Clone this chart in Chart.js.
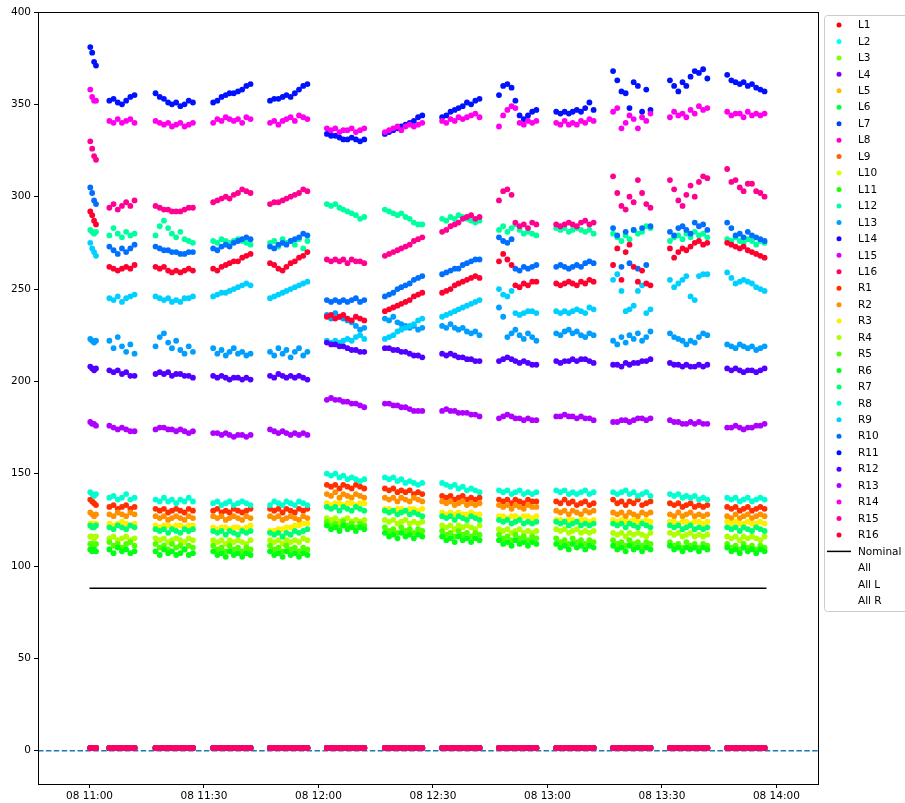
<!DOCTYPE html>
<html>
<head>
<meta charset="utf-8">
<script src="https://cdn.jsdelivr.net/npm/chart.js@4.4.1/dist/chart.umd.min.js"></script>
<style>
  html, body { margin: 0; padding: 0; background: #fff; }
  #chart { display: block; }
</style>
</head>
<body>
<canvas id="chart" width="905" height="803"></canvas>
<script>
// times of each burst of readings, minutes after 08 11:00
const sampleTimes = [
  [0.2, 0.7, 1.2, 1.7],
  [5.2, 6.3, 7.4, 8.5, 9.6, 10.7, 11.8],
  [17.3, 18.4, 19.5, 20.6, 21.6, 22.7, 23.8, 24.9, 26.0, 27.1],
  [32.4, 33.5, 34.6, 35.7, 36.7, 37.8, 38.9, 40.0, 41.1, 42.2],
  [47.3, 48.4, 49.5, 50.6, 51.6, 52.7, 53.8, 54.9, 56.0, 57.1],
  [62.2, 63.3, 64.4, 65.5, 66.5, 67.6, 68.7, 69.8, 70.9, 72.0],
  [77.4, 78.5, 79.6, 80.7, 81.7, 82.8, 83.9, 85.0, 86.1, 87.2],
  [92.4, 93.5, 94.6, 95.7, 96.7, 97.8, 98.9, 100.0, 101.1, 102.2],
  [107.3, 108.4, 109.5, 110.6, 111.6, 112.7, 113.8, 114.9, 116.0, 117.1],
  [122.3, 123.4, 124.5, 125.6, 126.6, 127.7, 128.8, 129.9, 131.0, 132.1],
  [137.2, 138.3, 139.4, 140.5, 141.5, 142.6, 143.7, 144.8, 145.9, 147.0],
  [152.1, 153.2, 154.3, 155.4, 156.4, 157.5, 158.6, 159.7, 160.8, 161.9],
  [167.1, 168.2, 169.3, 170.4, 171.4, 172.5, 173.6, 174.7, 175.8, 176.9]
];

const seriesNames = ['L1','L2','L3','L4','L5','L6','L7','L8','L9','L10','L11','L12','L13','L14','L15','L16',
  'R1','R2','R3','R4','R5','R6','R7','R8','R9','R10','R11','R12','R13','R14','R15','R16'];
const extraNames = ['All', 'All L', 'All R'];

// L sensors that only read ~0
const lOffline = [
  [1.5, 1.5, 1.5, 1.5],
  [1.5, 1.5, 1.5, 1.5, 1.5, 1.5, 1.5],
  [1.5, 1.5, 1.5, 1.5, 1.5, 1.5, 1.5, 1.5, 1.5, 1.5],
  [1.5, 1.5, 1.5, 1.5, 1.5, 1.5, 1.5, 1.5, 1.5, 1.5],
  [1.5, 1.5, 1.5, 1.5, 1.5, 1.5, 1.5, 1.5, 1.5, 1.5],
  [1.5, 1.5, 1.5, 1.5, 1.5, 1.5, 1.5, 1.5, 1.5, 1.5],
  [1.5, 1.5, 1.5, 1.5, 1.5, 1.5, 1.5, 1.5, 1.5, 1.5],
  [1.5, 1.5, 1.5, 1.5, 1.5, 1.5, 1.5, 1.5, 1.5, 1.5],
  [1.5, 1.5, 1.5, 1.5, 1.5, 1.5, 1.5, 1.5, 1.5, 1.5],
  [1.5, 1.5, 1.5, 1.5, 1.5, 1.5, 1.5, 1.5, 1.5, 1.5],
  [1.5, 1.5, 1.5, 1.5, 1.5, 1.5, 1.5, 1.5, 1.5, 1.5],
  [1.5, 1.5, 1.5, 1.5, 1.5, 1.5, 1.5, 1.5, 1.5, 1.5],
  [1.5, 1.5, 1.5, 1.5, 1.5, 1.5, 1.5, 1.5, 1.5, 1.5]
];

const L12 = [
  [282, 281, 280, 281],
  [279, 283, 280, 278, 281, 279, 280],
  [279, 284, 287, 283, 280, 278, 281, 277, 276, 275],
  [276, 275, 277, 276, 275, 276, 277, 276, 275, 274],
  [275, 276, 273, 277, 275, 276, 274, 277, 272, 276],
  [296, 295, 296, 294, 293, 292, 291, 290, 288, 289],
  [293, 292, 291, 290, 291, 289, 288, 286, 285, 285],
  [288, 287, 289, 288, 290, 289, 288, 287, 286, 287],
  [282, 284, 281, 283, 285, 282, 280, 281, 280, 279],
  [283, 282, 283, 281, 282, 283, 282, 281, 282, 280],
  [280, 278, 276, 279, 277, 282, 280, 281, 284, 283],
  [276, 278, 279, 277, 280, 278, 281, 279, 280, 278],
  [277, 276, 278, 276, 275, 277, 276, 274, 276, 275]
];
const L13 = [
  [223, 222, 221, 222],
  [222, 218, 224, 219, 216, 220, 215],
  [219, 224, 226, 221, 218, 222, 217, 215, 219, 216],
  [218, 215, 217, 214, 216, 218, 215, 216, 214, 215],
  [216, 214, 218, 215, 217, 213, 216, 218, 214, 216],
  [236, 234, 237, 235, 234, 233, 232, 230, 228, 229],
  [234, 233, 235, 232, 231, 230, 229, 230, 228, 229],
  [230, 229, 231, 229, 228, 229, 227, 226, 227, 225],
  [240, 235, 224, 226, 228, 225, 223, 226, 224, 222],
  [226, 225, 227, 228, 226, 227, 225, 224, 226, 225],
  [222, 220, 224, 221, 225, 223, 226, 222, 224, 227],
  [226, 224, 223, 222, 220, 222, 221, 224, 226, 225],
  [220, 219, 218, 220, 219, 218, 219, 217, 218, 219]
];

const R1 = [
  [136, 135, 134, 133],
  [132, 133, 131, 132, 133, 131, 132],
  [131, 130, 131, 129, 130, 131, 130, 129, 131, 130],
  [130, 131, 129, 130, 129, 131, 130, 129, 130, 131],
  [131, 130, 131, 129, 131, 130, 129, 131, 130, 131],
  [144, 143, 144, 142, 144, 143, 142, 144, 143, 142],
  [142, 141, 142, 140, 141, 140, 141, 139, 140, 139],
  [138, 137, 138, 136, 137, 138, 136, 137, 136, 137],
  [136, 135, 136, 134, 136, 135, 134, 136, 135, 135],
  [135, 134, 136, 134, 135, 133, 134, 135, 133, 134],
  [136, 134, 135, 133, 135, 134, 136, 133, 134, 135],
  [134, 133, 134, 132, 133, 134, 132, 133, 132, 133],
  [132, 131, 132, 130, 131, 132, 130, 131, 132, 131]
];
const R2 = [
  [129, 128, 127, 128],
  [128, 127, 129, 128, 127, 129, 128],
  [127, 126, 127, 125, 126, 127, 126, 125, 127, 126],
  [127, 126, 127, 125, 126, 127, 126, 125, 127, 126],
  [127, 126, 127, 125, 126, 127, 126, 125, 127, 126],
  [139, 138, 140, 137, 139, 138, 137, 139, 138, 137],
  [137, 136, 137, 135, 137, 136, 135, 137, 136, 135],
  [135, 134, 135, 133, 134, 135, 133, 134, 133, 134],
  [133, 132, 133, 131, 133, 132, 131, 133, 132, 132],
  [130, 129, 130, 128, 130, 129, 128, 130, 129, 130],
  [129, 128, 129, 127, 129, 128, 127, 129, 128, 129],
  [128, 127, 129, 127, 128, 129, 127, 128, 127, 128],
  [127, 126, 128, 126, 127, 128, 126, 127, 128, 127]
];
const R3 = [
  [123, 123, 122, 123],
  [123, 122, 123, 124, 123, 122, 123],
  [122, 121, 122, 122, 121, 122, 122, 121, 122, 122],
  [121, 120, 121, 121, 120, 121, 121, 120, 121, 122],
  [119, 119, 120, 120, 121, 121, 122, 122, 123, 123],
  [134, 133, 134, 134, 133, 134, 134, 133, 134, 134],
  [131, 131, 130, 131, 131, 130, 131, 131, 130, 131],
  [129, 128, 129, 128, 129, 128, 128, 129, 128, 128],
  [127, 127, 126, 127, 127, 126, 127, 127, 126, 127],
  [125, 125, 124, 125, 125, 124, 125, 125, 124, 125],
  [125, 124, 125, 124, 124, 125, 124, 124, 125, 124],
  [124, 124, 123, 124, 124, 123, 124, 124, 123, 124],
  [124, 123, 124, 123, 123, 124, 123, 123, 124, 123]
];
const R4 = [
  [116, 116, 115, 116],
  [115, 116, 114, 115, 116, 114, 115],
  [115, 114, 115, 113, 114, 115, 114, 113, 115, 114],
  [114, 113, 114, 112, 114, 113, 114, 113, 112, 114],
  [114, 113, 114, 112, 114, 113, 114, 113, 115, 114],
  [126, 125, 126, 124, 125, 126, 124, 125, 124, 125],
  [125, 124, 125, 123, 124, 125, 123, 124, 123, 124],
  [122, 121, 122, 120, 122, 121, 122, 121, 120, 122],
  [120, 119, 120, 118, 119, 120, 118, 119, 118, 119],
  [120, 119, 120, 118, 119, 120, 118, 119, 118, 119],
  [118, 117, 118, 116, 118, 117, 118, 117, 116, 118],
  [118, 117, 118, 116, 117, 118, 116, 117, 116, 117],
  [116, 115, 116, 114, 116, 115, 116, 115, 114, 116]
];
const R5 = [
  [112, 112, 111, 112],
  [113, 111, 112, 110, 112, 113, 111],
  [112, 110, 111, 109, 112, 110, 111, 109, 111, 110],
  [111, 109, 110, 108, 111, 109, 110, 108, 110, 109],
  [111, 109, 110, 108, 111, 109, 110, 108, 110, 109],
  [124, 122, 123, 121, 124, 122, 123, 121, 123, 122],
  [121, 119, 120, 118, 121, 119, 120, 118, 120, 119],
  [119, 117, 118, 116, 119, 117, 118, 116, 118, 117],
  [117, 115, 116, 114, 117, 115, 116, 114, 116, 115],
  [115, 113, 114, 112, 115, 113, 114, 112, 114, 113],
  [114, 112, 113, 111, 114, 112, 113, 111, 113, 112],
  [113, 111, 112, 110, 113, 111, 112, 110, 112, 111],
  [112, 110, 111, 109, 112, 110, 111, 109, 111, 110]
];
const R6 = [
  [109, 108, 109, 108],
  [109, 107, 110, 108, 109, 107, 108],
  [108, 106, 109, 107, 108, 106, 107, 109, 106, 107],
  [108, 106, 107, 105, 108, 106, 107, 105, 107, 106],
  [108, 106, 107, 105, 108, 106, 107, 105, 107, 106],
  [122, 120, 121, 119, 122, 120, 121, 119, 121, 120],
  [118, 116, 117, 115, 118, 116, 117, 115, 117, 116],
  [116, 114, 115, 113, 116, 114, 115, 113, 115, 114],
  [114, 112, 113, 111, 114, 112, 113, 111, 113, 112],
  [112, 110, 111, 109, 112, 110, 111, 109, 111, 110],
  [111, 109, 110, 108, 111, 109, 110, 108, 110, 109],
  [111, 109, 110, 108, 110, 109, 110, 108, 110, 109],
  [110, 108, 109, 107, 110, 108, 109, 107, 109, 108]
];
const R7 = [
  [122, 121, 121, 122],
  [121, 120, 122, 121, 120, 122, 121],
  [120, 119, 120, 118, 120, 119, 118, 120, 119, 120],
  [119, 118, 119, 117, 119, 118, 117, 119, 118, 119],
  [118, 117, 118, 116, 118, 117, 119, 118, 119, 120],
  [132, 131, 132, 130, 132, 131, 130, 132, 131, 130],
  [130, 129, 130, 128, 129, 130, 128, 129, 128, 127],
  [127, 126, 127, 125, 127, 126, 125, 127, 126, 125],
  [125, 124, 125, 123, 124, 125, 123, 124, 123, 124],
  [124, 123, 124, 122, 123, 124, 122, 123, 122, 123],
  [123, 122, 123, 121, 123, 122, 121, 123, 122, 121],
  [122, 121, 122, 120, 121, 122, 120, 121, 120, 121],
  [121, 120, 121, 119, 121, 120, 119, 121, 120, 119]
];
const R8 = [
  [140, 139, 138, 139],
  [137, 138, 136, 137, 139, 136, 137],
  [136, 135, 137, 135, 136, 134, 136, 135, 137, 135],
  [134, 135, 133, 134, 135, 133, 134, 135, 134, 133],
  [133, 135, 134, 133, 135, 134, 133, 135, 134, 133],
  [150, 149, 150, 148, 149, 147, 148, 147, 146, 147],
  [148, 147, 148, 146, 147, 145, 146, 145, 144, 145],
  [145, 144, 143, 144, 142, 143, 141, 142, 141, 140],
  [141, 140, 141, 139, 140, 141, 139, 140, 139, 140],
  [141, 140, 141, 139, 140, 139, 140, 141, 139, 140],
  [140, 139, 140, 141, 139, 140, 138, 139, 140, 138],
  [139, 138, 139, 137, 138, 137, 138, 136, 137, 136],
  [137, 136, 137, 135, 136, 137, 135, 136, 137, 136]
];
const R9 = [
  [275, 272, 270, 268],
  [245, 244, 246, 243, 245, 246, 247],
  [246, 245, 244, 245, 243, 244, 243, 245, 245, 246],
  [246, 247, 248, 248, 249, 250, 251, 252, 253, 252],
  [245, 246, 247, 248, 249, 250, 251, 252, 253, 254],
  [222, 221, 222, 221, 222, 223, 222, 224, 225, 223],
  [223, 224, 225, 227, 228, 229, 230, 231, 233, 234],
  [235, 236, 237, 238, 239, 240, 241, 242, 243, 244],
  [250, 247, 246, 249, 237, 236, 237, 238, 238, 237],
  [238, 237, 238, 237, 238, 239, 238, 237, 240, 239],
  [255, 258, 249, 238, 239, 241, 249, 252, 237, 239],
  [255, 251, 253, 255, 257, 246, 244, 257, 258, 258],
  [259, 256, 253, 254, 255, 254, 253, 251, 250, 249]
];
const R10 = [
  [305, 302, 298, 296],
  [273, 271, 269, 272, 270, 272, 274],
  [273, 272, 271, 271, 270, 270, 269, 269, 270, 270],
  [272, 271, 273, 274, 273, 275, 276, 277, 278, 277],
  [273, 272, 274, 275, 274, 276, 277, 278, 280, 279],
  [244, 243, 244, 243, 244, 243, 244, 245, 243, 244],
  [246, 247, 248, 250, 251, 252, 253, 255, 256, 257],
  [258, 259, 260, 261, 261, 263, 264, 265, 266, 266],
  [278, 276, 275, 277, 261, 260, 262, 261, 262, 263],
  [262, 263, 262, 261, 262, 263, 262, 264, 265, 264],
  [283, 279, 262, 281, 264, 282, 261, 283, 263, 284],
  [281, 279, 283, 284, 282, 280, 286, 284, 285, 282],
  [286, 283, 279, 280, 278, 281, 279, 278, 277, 276]
];
const R11 = [
  [381, 378, 373, 371],
  [352, 353, 351, 350, 352, 354, 355],
  [356, 354, 353, 351, 350, 351, 349, 350, 352, 351],
  [351, 352, 354, 355, 356, 356, 357, 358, 360, 361],
  [352, 353, 353, 354, 355, 354, 356, 358, 360, 361],
  [334, 333, 333, 332, 331, 331, 332, 331, 330, 331],
  [334, 335, 336, 337, 338, 339, 340, 341, 343, 344],
  [343, 344, 346, 347, 348, 349, 351, 350, 352, 353],
  [355, 360, 361, 359, 352, 344, 342, 344, 346, 347],
  [346, 345, 346, 345, 346, 347, 346, 348, 351, 347],
  [368, 363, 357, 356, 348, 362, 360, 346, 358, 347],
  [363, 360, 357, 362, 360, 365, 368, 367, 369, 364],
  [366, 363, 362, 361, 362, 360, 361, 359, 358, 357]
];
const R12 = [
  [208, 207, 206, 207],
  [206, 205, 206, 204, 205, 203, 203],
  [204, 205, 204, 205, 203, 204, 204, 203, 203, 202],
  [203, 202, 203, 202, 201, 202, 202, 201, 202, 201],
  [203, 202, 204, 203, 202, 203, 202, 203, 202, 201],
  [221, 220, 220, 219, 219, 218, 217, 217, 216, 216],
  [218, 218, 217, 217, 216, 216, 215, 214, 214, 213],
  [215, 214, 215, 214, 213, 213, 212, 212, 211, 211],
  [211, 212, 213, 212, 211, 210, 211, 210, 209, 209],
  [211, 210, 211, 211, 212, 211, 212, 212, 211, 210],
  [209, 209, 208, 210, 209, 210, 210, 211, 211, 212],
  [210, 209, 209, 208, 209, 208, 208, 209, 208, 209],
  [207, 206, 207, 206, 205, 206, 206, 205, 206, 207]
];
const R13 = [
  [178, 177, 177, 176],
  [176, 175, 174, 175, 174, 173, 173],
  [174, 175, 175, 174, 174, 173, 174, 173, 172, 173],
  [172, 172, 171, 172, 171, 170, 171, 171, 170, 171],
  [174, 173, 172, 173, 172, 171, 172, 171, 172, 171],
  [190, 191, 190, 190, 189, 189, 188, 188, 187, 186],
  [188, 188, 187, 187, 186, 186, 185, 184, 184, 184],
  [184, 185, 184, 184, 183, 183, 183, 182, 182, 181],
  [180, 181, 182, 181, 180, 180, 179, 180, 179, 179],
  [181, 181, 182, 181, 181, 180, 181, 180, 180, 179],
  [178, 178, 179, 179, 178, 179, 180, 180, 179, 180],
  [179, 178, 178, 177, 177, 178, 177, 178, 177, 177],
  [175, 175, 176, 175, 174, 175, 175, 176, 176, 177]
];
const R14 = [
  [358, 354, 352, 352],
  [341, 340, 342, 340, 341, 342, 340],
  [341, 340, 339, 340, 338, 339, 340, 338, 339, 340],
  [340, 342, 341, 343, 342, 341, 342, 340, 343, 342],
  [340, 341, 339, 341, 342, 343, 341, 344, 343, 342],
  [337, 336, 337, 335, 336, 336, 337, 335, 336, 337],
  [335, 336, 337, 338, 336, 338, 339, 338, 339, 340],
  [341, 340, 342, 341, 343, 342, 343, 344, 345, 343],
  [338, 344, 347, 349, 348, 340, 339, 341, 340, 341],
  [340, 339, 341, 339, 340, 339, 341, 340, 342, 341],
  [346, 348, 337, 340, 344, 342, 337, 343, 341, 345],
  [343, 346, 344, 345, 343, 347, 345, 349, 347, 348],
  [346, 344, 345, 345, 343, 346, 344, 345, 344, 345]
];
const R15 = [
  [330, 326, 322, 320],
  [294, 296, 293, 295, 297, 295, 298],
  [295, 294, 293, 293, 292, 292, 292, 293, 294, 294],
  [297, 298, 299, 300, 299, 301, 302, 304, 303, 302],
  [296, 297, 297, 298, 299, 300, 301, 302, 304, 303],
  [266, 265, 266, 265, 266, 264, 266, 265, 265, 264],
  [268, 269, 270, 271, 272, 273, 274, 276, 277, 278],
  [281, 282, 284, 285, 286, 288, 289, 290, 288, 289],
  [298, 303, 304, 301, 286, 284, 285, 283, 286, 285],
  [285, 284, 285, 286, 285, 284, 286, 287, 285, 286],
  [311, 302, 295, 293, 300, 297, 309, 302, 296, 294],
  [309, 304, 298, 295, 301, 306, 300, 308, 311, 310],
  [315, 308, 309, 305, 303, 307, 307, 303, 302, 300]
];
const R16 = [
  [292, 290, 287, 285],
  [262, 261, 260, 261, 262, 261, 263],
  [262, 261, 262, 260, 259, 260, 259, 260, 261, 260],
  [261, 260, 262, 263, 264, 265, 265, 267, 268, 269],
  [264, 263, 261, 260, 262, 264, 265, 267, 268, 270],
  [235, 236, 234, 235, 236, 234, 233, 235, 234, 233],
  [238, 239, 240, 241, 242, 243, 244, 246, 247, 248],
  [248, 249, 250, 252, 253, 254, 255, 256, 257, 256],
  [265, 269, 266, 263, 252, 251, 253, 252, 254, 254],
  [253, 252, 253, 254, 253, 252, 254, 253, 255, 254],
  [263, 272, 255, 270, 274, 262, 254, 260, 253, 252],
  [272, 267, 270, 272, 271, 273, 275, 276, 274, 275],
  [275, 274, 273, 272, 273, 271, 270, 269, 268, 267]
];

const nominalTimes = [0, 177.4];
const nominalValues = [88, 88];
const referenceLevel = 0;

const xTickMinutes = [0, 30, 60, 90, 120, 150, 180];
const yTickValues = [0, 50, 100, 150, 200, 250, 300, 350, 400];
const xRange = [-13.5, 190.9];
const yRange = [-18, 400];

// hsv colours per sensor (degrees)
const lHues = [0, 180, 90, 270, 45, 135, 225, 315, 22.5, 67.5, 112.5, 157.5, 202.5, 247.5, 292.5, 337.5];
const rHues = [11, 34, 56, 79, 101, 124, 146, 169, 191, 214, 236, 259, 281, 304, 326, 349];

const readings = {
  L12, L13, R1, R2, R3, R4, R5, R6, R7, R8, R9, R10, R11, R12, R13, R14, R15, R16
};

function toPoints(clusters) {
  const pts = [];
  clusters.forEach((vals, c) => {
    vals.forEach((v, i) => pts.push({ x: sampleTimes[c][i], y: v }));
  });
  return pts;
}

const FONT = 'DejaVu Sans';
const hues = lHues.concat(rHues);
const datasets = [];

// axhline at zero, drawn below everything
datasets.push({
  label: '',
  legendKind: 'skip',
  data: [{ x: xRange[0], y: referenceLevel }, { x: xRange[1], y: referenceLevel }],
  showLine: true,
  borderColor: '#1f77b4',
  borderWidth: 1.5,
  borderDash: [5.5, 2.4],
  pointRadius: 0,
  order: 100
});

seriesNames.forEach((name, i) => {
  const col = 'hsl(' + hues[i] + ', 100%, 50%)';
  datasets.push({
    label: name,
    legendKind: 'dot',
    data: toPoints(readings[name] || lOffline),
    backgroundColor: col,
    borderWidth: 0,
    pointRadius: 2.9,
    order: -i
  });
});

datasets.push({
  label: 'Nominal',
  legendKind: 'line',
  data: nominalTimes.map((t, i) => ({ x: t, y: nominalValues[i] })),
  showLine: true,
  borderColor: '#000',
  borderWidth: 1.5,
  pointRadius: 0,
  order: -50
});

extraNames.forEach(name => {
  datasets.push({ label: name, legendKind: 'none', data: [], pointRadius: 0, order: -60 });
});

function fmtTime(m) {
  const h = 11 + Math.floor(m / 60);
  const mm = m % 60;
  return '08 ' + h + ':' + (mm < 10 ? '0' : '') + mm;
}

const framePlugin = {
  id: 'frame',
  afterDatasetsDraw(chart) {
    const a = chart.chartArea;
    const ctx = chart.ctx;
    ctx.save();
    ctx.strokeStyle = '#000';
    ctx.lineWidth = 1;
    ctx.strokeRect(Math.round(a.left) + 0.5, Math.round(a.top) + 0.5,
      Math.round(a.right - a.left), Math.round(a.bottom - a.top));
    ctx.restore();
  }
};

const sideLegend = {
  id: 'sideLegend',
  afterDraw(chart) {
    const ctx = chart.ctx;
    const items = chart.data.datasets.filter(d => d.legendKind !== 'skip');
    const left = 824.5, top = 15.5, w = 110, h = 596, r = 3;
    ctx.save();
    ctx.beginPath();
    ctx.moveTo(left + r, top);
    ctx.lineTo(left + w - r, top);
    ctx.quadraticCurveTo(left + w, top, left + w, top + r);
    ctx.lineTo(left + w, top + h - r);
    ctx.quadraticCurveTo(left + w, top + h, left + w - r, top + h);
    ctx.lineTo(left + r, top + h);
    ctx.quadraticCurveTo(left, top + h, left, top + h - r);
    ctx.lineTo(left, top + r);
    ctx.quadraticCurveTo(left, top, left + r, top);
    ctx.closePath();
    ctx.fillStyle = 'rgba(255,255,255,0.8)';
    ctx.fill();
    ctx.strokeStyle = '#cccccc';
    ctx.lineWidth = 1;
    ctx.stroke();

    ctx.font = '10.5px "' + FONT + '"';
    ctx.textBaseline = 'middle';
    ctx.textAlign = 'left';
    items.forEach((d, i) => {
      const y = 25 + i * 16.45;
      if (d.legendKind === 'dot') {
        ctx.beginPath();
        ctx.arc(839, y, 2.5, 0, Math.PI * 2);
        ctx.fillStyle = d.backgroundColor;
        ctx.fill();
      } else if (d.legendKind === 'line') {
        ctx.beginPath();
        ctx.moveTo(827, y);
        ctx.lineTo(851, y);
        ctx.strokeStyle = d.borderColor;
        ctx.lineWidth = 1.5;
        ctx.stroke();
      }
      ctx.fillStyle = '#000';
      ctx.fillText(d.label, 858, y + 0.5);
    });
    ctx.restore();
  }
};

new Chart(document.getElementById('chart'), {
  type: 'scatter',
  data: { datasets: datasets },
  options: {
    responsive: false,
    animation: false,
    devicePixelRatio: 1,
    events: [],
    layout: { padding: { top: 12, right: 87, bottom: 0, left: 0 } },
    plugins: { legend: { display: false }, tooltip: { enabled: false } },
    scales: {
      x: {
        type: 'linear',
        min: xRange[0],
        max: xRange[1],
        afterFit: s => { s.height = 19; },
        afterBuildTicks: s => { s.ticks = xTickMinutes.map(v => ({ value: v })); },
        ticks: {
          autoSkip: false,
          maxRotation: 0,
          padding: 2,
          color: '#000',
          font: { family: FONT, size: 10.5 },
          callback: v => fmtTime(v)
        },
        grid: { display: true, drawOnChartArea: false, drawTicks: true, tickLength: 4, color: '#000', lineWidth: 1 },
        border: { display: true, color: '#000', width: 1 }
      },
      y: {
        type: 'linear',
        min: yRange[0],
        max: yRange[1],
        afterFit: s => { s.width = 38; },
        afterBuildTicks: s => { s.ticks = yTickValues.map(v => ({ value: v })); },
        ticks: {
          autoSkip: false,
          padding: 3,
          color: '#000',
          font: { family: FONT, size: 10.5 },
          callback: v => String(v)
        },
        grid: { display: true, drawOnChartArea: false, drawTicks: true, tickLength: 4, color: '#000', lineWidth: 1 },
        border: { display: true, color: '#000', width: 1 }
      }
    }
  },
  plugins: [framePlugin, sideLegend]
});
</script>
</body>
</html>
